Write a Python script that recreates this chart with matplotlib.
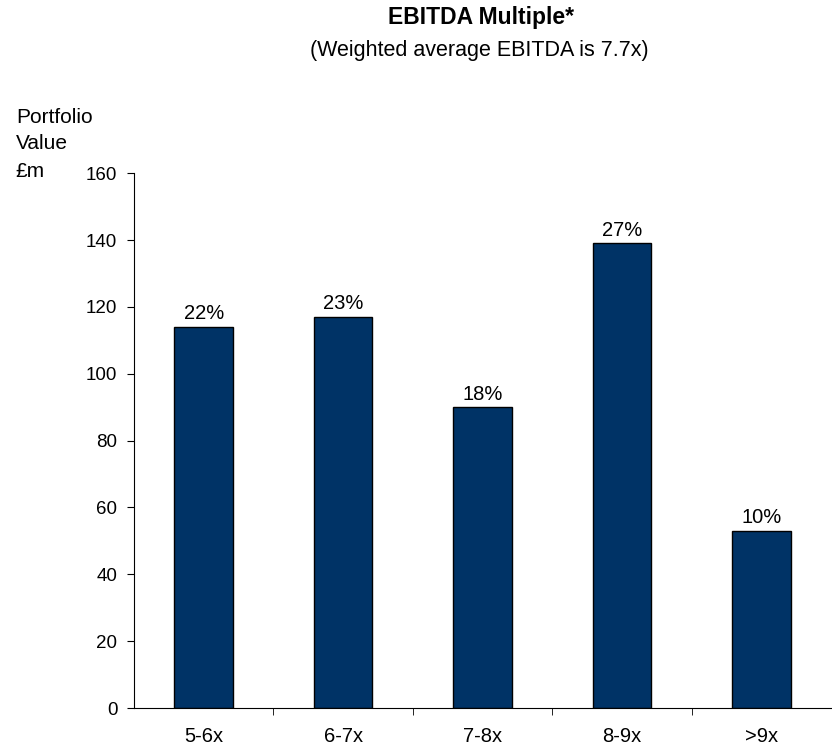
import numpy as np
import matplotlib.pyplot as plt

plt.rcParams['font.family'] = ['Liberation Sans', 'DejaVu Sans']

categories = ['5-6x', '6-7x', '7-8x', '8-9x', '>9x']
values = [114, 117, 90, 139, 53]
shares = ['22%', '23%', '18%', '27%', '10%']

fig = plt.figure(figsize=(8.32, 7.47), dpi=100)
ax = fig.add_axes([0.161, 0.0522, 0.838, 0.716])

x = np.arange(len(categories))
bars = ax.bar(x, values, width=0.42, color='#003366', edgecolor='black', linewidth=1)
for b, s in zip(bars, shares):
    ax.annotate(s, (b.get_x() + b.get_width() / 2, b.get_height()),
                xytext=(0, 2.5), textcoords='offset points',
                ha='center', va='bottom', fontsize=14.5)

ax.set_xlim(-0.5, len(categories) - 0.5)
ax.set_ylim(0, 160)
ax.set_yticks(range(0, 161, 20))
ax.tick_params(axis='y', labelsize=13.5, length=5, direction='out', pad=7)

# category labels centred, ticks at boundaries
ax.set_xticks(x)
ax.set_xticklabels(categories, fontsize=14.5)
ax.tick_params(axis='x', which='major', length=0, pad=14)
ax.set_xticks(np.arange(0.5, len(categories) - 0.5, 1), minor=True)
ax.tick_params(axis='x', which='minor', length=5, direction='out')

ax.spines['top'].set_visible(False)
ax.spines['right'].set_visible(False)

fig.text(0.578, 0.977, 'EBITDA Multiple*', ha='center', va='center',
         fontsize=16.5, fontweight='bold')
fig.text(0.576, 0.932, '(Weighted average EBITDA is 7.7x)', ha='center',
         va='center', fontsize=15.5)
fig.text(0.019, 0.843, 'Portfolio', ha='left', va='center', fontsize=15)
fig.text(0.019, 0.808, 'Value', ha='left', va='center', fontsize=15)
fig.text(0.019, 0.771, '£m', ha='left', va='center', fontsize=15)

fig.savefig('out.png', dpi=100)
